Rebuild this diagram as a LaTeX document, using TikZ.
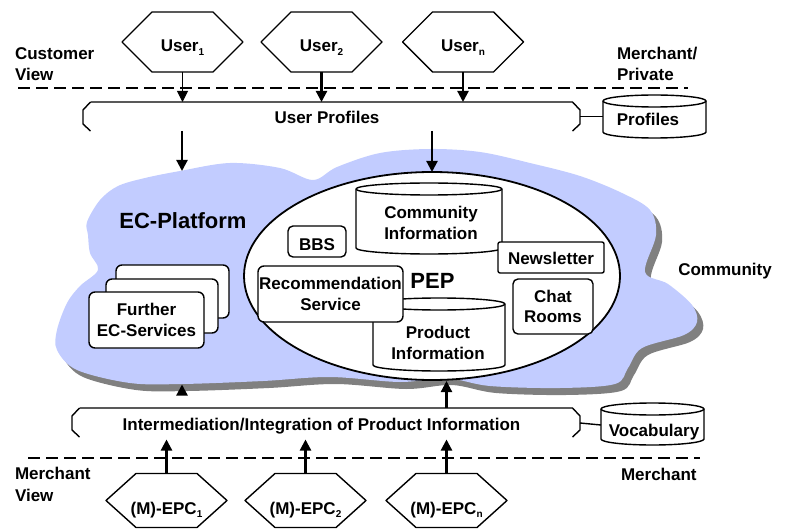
\documentclass[tikz,border=0pt]{standalone}
\usepackage{fontspec}
\setmainfont{Liberation Sans}
\usetikzlibrary{arrows.meta,shapes.geometric,calc}
\definecolor{cloudblue}{RGB}{194,204,255}
\definecolor{shadowgray}{RGB}{128,128,128}
\newcommand\lowsub[1]{\raisebox{-3.5pt}{\fontsize{10}{10}\selectfont #1}}
\newcommand\hexa[1]{\draw[shapeline] ([xshift=30pt]#1.north west) -- ([xshift=-30pt]#1.north east) -- (#1.east) -- ([xshift=-30pt]#1.south east) -- ([xshift=30pt]#1.south west) -- (#1.west) -- cycle;}
\newcommand\cylinderat[4]{%
  \pgfmathsetmacro\cylrx{(#3-#1)/2}%
  \draw[shapeline, fill=white] (#1,#2+6) -- (#1,#4-6) arc[start angle=180, end angle=360, x radius=\cylrx pt, y radius=6pt] -- (#3,#2+6) arc[start angle=0, end angle=180, x radius=\cylrx pt, y radius=6pt] -- cycle;
  \draw[shapeline] (#1,#2+6) arc[start angle=180, end angle=360, x radius=\cylrx pt, y radius=6pt];
}
\newcommand\bracketat[3]{%
  \draw[shapeline] (#1+7.5,#3) -- (#1,#3+8) -- (#1,#3+22) -- (#1+7.5,#3+29);
  \draw[shapeline] (#1+7.5,#3) -- (#2-7.5,#3) -- (#2,#3+8) -- (#2,#3+22) -- (#2-7.5,#3+29);
}
\begin{document}
\begin{tikzpicture}[x=1pt,y=-1pt,
  lbl/.style={font=\fontsize{17}{20.5}\selectfont\bfseries, align=center, inner sep=0pt, outer sep=0pt},
  biglbl/.style={font=\fontsize{22}{24}\selectfont\bfseries, inner sep=0pt, outer sep=0pt},
  shapeline/.style={draw=black, line width=1.4pt, line join=round},
  arr/.style={draw=black, line width=2.2pt, -{Triangle[width=11pt,length=11pt]}},
  thinarr/.style={arr, line width=1pt},
  sepline/.style={draw=black, line width=2.5pt, dash pattern=on 12pt off 6pt},
  rbox/.style={lbl, shapeline, fill=white, rounded corners=6pt},
  userhex/.style={lbl, minimum width=121pt, minimum height=60pt, text height=19.4pt, text depth=0pt},
  epchex/.style={lbl, minimum width=121pt, minimum height=54pt, text height=27pt, text depth=0pt},
  sidelbl/.style={lbl, align=left, anchor=west, font=\fontsize{17}{21.5}\selectfont\bfseries},
]
\useasboundingbox (0,0) rectangle (786,529);

% cloud with shadow
\begin{scope}[shift={(6,7)}]
\fill[shadowgray] plot[smooth cycle, tension=0.55] coordinates {(87,222) (100,200) (118,186) (145,178) (180,171) (230,163) (280,168) (313,180) (337,167) (380,153) (430,149) (480,152) (530,163) (580,176) (622,193) (650,210) (656,235) (645,272) (668,284) (692,305) (697,322) (684,335) (642,348) (628,368) (615,384) (560,388) (490,386) (446,378) (400,382) (330,377) (263,381) (182,384) (130,383) (77,370) (57,350) (57,330) (67,303) (80,286) (98,270) (90,253) (88,235)};
\end{scope}
\fill[cloudblue] plot[smooth cycle, tension=0.55] coordinates {(87,222) (100,200) (118,186) (145,178) (180,171) (230,163) (280,168) (313,180) (337,167) (380,153) (430,149) (480,152) (530,163) (580,176) (622,193) (650,210) (656,235) (645,272) (668,284) (692,305) (697,322) (684,335) (642,348) (628,368) (615,384) (560,388) (490,386) (446,378) (400,382) (330,377) (263,381) (182,384) (130,383) (77,370) (57,350) (57,330) (67,303) (80,286) (98,270) (90,253) (88,235)};

% PEP ellipse
\node[ellipse, draw, line width=1.8pt, fill=white, minimum width=376pt, minimum height=208pt, inner sep=0pt, outer sep=0pt] (pep) at (432,276) {};

\cylinderat{356}{183}{502}{254}
\node[lbl] (comm) at (431,223) {Community\\Information};
\cylinderat{373}{298}{505}{371}
\node[lbl] (prod) at (438,342.7) {Product\\Information};
\node[biglbl, anchor=base] (peplbl) at (432.5,288.3) {PEP};

\node[rbox, rounded corners=5pt, minimum width=58pt, minimum height=31pt, text height=17pt, text depth=0pt] (bbs) at (317,241.5) {BBS};
\node[rbox, minimum width=145pt, minimum height=56pt] (rec) at (330.5,294) {Recommendation\\Service};
\node[rbox, rounded corners=2pt, minimum width=106pt, minimum height=31pt, text height=13pt, text depth=0pt] (news) at (551,257.5) {Newsletter};
\node[rbox, rounded corners=5pt, minimum width=80pt, minimum height=55pt] (chat) at (553,306.5) {Chat\\Rooms};

% further EC services
\node[rbox, minimum width=113pt, minimum height=53pt] (ecsc) at (172.5,291.5) {};
\node[rbox, minimum width=112pt, minimum height=54pt] (ecsb) at (162,306) {};
\node[rbox, minimum width=115pt, minimum height=56pt] (ecsa) at (146.5,320) {Further\\EC-Services};
\node[biglbl, anchor=base] (ecplat) at (183,228.3) {EC-Platform};

% brackets
\bracketat{83}{580}{102}
\node[lbl, anchor=base] (uprof) at (327,124) {User Profiles};
\bracketat{72}{580}{408}
\node[lbl, anchor=base] (interm) at (321.5,430) {Intermediation/Integration of Product Information};

% repositories
\cylinderat{603}{95}{706}{138}
\node[lbl, anchor=base] (prof) at (648,125.7) {Profiles};
\cylinderat{601}{403}{704}{445}
\node[lbl, anchor=base] (vocab) at (654,436.5) {Vocabulary};
\coordinate (upstub) at (580,116.7);
\coordinate (profleft) at (603,116.7);
\draw[shapeline] (upstub) -- (profleft);
\coordinate (lowstub) at (580,423);
\coordinate (vocableft) at (601,425);
\draw[shapeline] (lowstub) -- (vocableft);

% users
\node[userhex] (u1) at (182.5,42) {User\lowsub{1}}; \hexa{u1}
\node[userhex] (u2) at (321.5,42) {User\lowsub{2}}; \hexa{u2}
\node[userhex] (un) at (463,42) {User\lowsub{n}}; \hexa{un}

% EPCs
\node[epchex] (e1) at (166.5,500.5) {(M)-EPC\lowsub{1}}; \hexa{e1}
\node[epchex] (e2) at (305.5,500.5) {(M)-EPC\lowsub{2}}; \hexa{e2}
\node[epchex] (en) at (446.5,500.5) {(M)-EPC\lowsub{n}}; \hexa{en}

% side labels
\node[sidelbl] (custview) at (15,64) {Customer\\View};
\node[sidelbl] (mprivate) at (617,64) {Merchant/\\Private};
\node[sidelbl] (mview) at (15,484.5) {Merchant\\View};
\node[lbl, anchor=base] (merch) at (658.8,480) {Merchant};
\node[lbl, anchor=base] (commlbl) at (725,275) {Community};

% separators
\draw[sepline] (18,88) -- (688,88);
\draw[sepline] (28,458) -- (700,458);

% arrows
\coordinate (upbar) at (0,102);
\draw[thinarr] (u1.south) -- (u1.south |- upbar);
\draw[arr] (u2.south) -- (u2.south |- upbar);
\draw[arr] (un.south) -- (un.south |- upbar);
\coordinate (upbarbot1) at (182,131);
\coordinate (cloudtop) at (182,171);
\draw[arr] (upbarbot1) -- (cloudtop);
\coordinate (upbarbot2) at (432,131);
\draw[arr] (upbarbot2) -- (pep.north);

\coordinate (lowbar) at (0,439.5);
\draw[arr] (e1.north) -- (e1.north |- lowbar);
\draw[arr] (e2.north) -- (e2.north |- lowbar);
\draw[arr] (en.north) -- (en.north |- lowbar);
\coordinate (lowbartop) at (446.5,408);
\coordinate (pepbottom) at (446.5,381);
\draw[arr] (lowbartop) -- (pepbottom);
\coordinate (cloudbot1) at (182,394);
\coordinate (cloudbot2) at (182,384.5);
\draw[arr] (cloudbot1) -- (cloudbot2);
\end{tikzpicture}
\end{document}
